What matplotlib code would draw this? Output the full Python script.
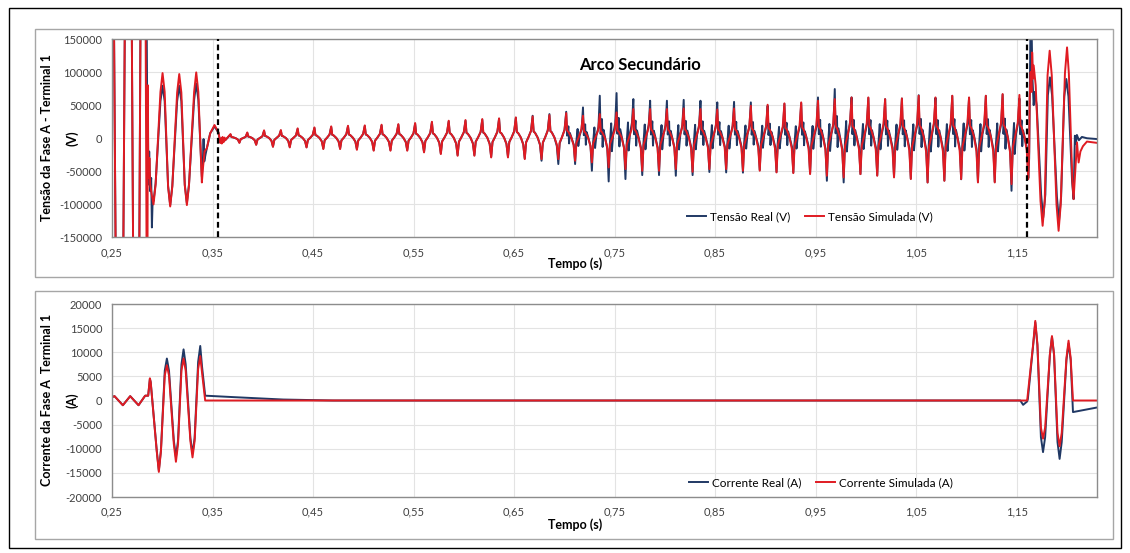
import numpy as np
import matplotlib
matplotlib.use("Agg")
import matplotlib.pyplot as plt
from matplotlib.patches import Rectangle
from matplotlib.ticker import FuncFormatter, MultipleLocator

plt.rcParams['font.family'] = ['Lato', 'DejaVu Sans']
plt.rcParams['axes.unicode_minus'] = False

BLUE = '#203864'
RED = '#e01b22'

# ---------------- tensão (V) ----------------
# trecho inicial (falta + abertura), vertices
v_ini_t_real = [0.2480, 0.2576, 0.2664, 0.2743, 0.2812, 0.2852, 0.2857, 0.2862, 0.2870, 0.2880,
                0.2890, 0.2897, 0.2905, 0.2913, 0.2934, 0.2982, 0.3003, 0.3024, 0.3058, 0.3079,
                0.3100, 0.3148, 0.3169, 0.3190, 0.3224, 0.3245, 0.3266, 0.3317, 0.3338, 0.3359,
                0.3394, 0.3405, 0.3411, 0.3418, 0.3430, 0.3444, 0.3477, 0.3520, 0.3560, 0.3576,
                0.3600, 0.3626]
v_ini_real = [1.0e6, -1.0e6, 1.0e6, -1.0e6, 1.0e6, 0, 30000, -70000, -20000, -80000,
              -60000, -134800, -90000, -95000, -68000, 56000, 79400, 56000, -72000, -101000,
              -72000, 56000, 79400, 56000, -70000, -98000, -70000, 58000, 82700, 58000,
              -58000, -30000, -1200, -35000, -25000, -15000, 7500, 18000, 8000, -5000,
              -2000, -3000]
v_ini_t_sim = [0.2480, 0.2576, 0.2664, 0.2743, 0.2812, 0.2850, 0.2857, 0.2860, 0.2866, 0.2872,
               0.2880, 0.2895, 0.2913, 0.2934, 0.2982, 0.3003, 0.3024, 0.3058, 0.3079, 0.3100,
               0.3148, 0.3169, 0.3190, 0.3224, 0.3245, 0.3266, 0.3317, 0.3338, 0.3359, 0.3394,
               0.3405, 0.3421, 0.3444, 0.3477, 0.3520, 0.3560, 0.3576, 0.3585, 0.3592, 0.3600,
               0.3610, 0.3620, 0.3626]
v_ini_sim = [1.0e6, -1.0e6, 1.0e6, -1.0e6, 1.0e6, -400000, 80000, -20000, -60000, -30000,
             -70000, -85000, -100000, -70000, 70000, 98500, 70000, -73000, -103100, -73000,
             69000, 97000, 69000, -71000, -101000, -71000, 70000, 99500, 70000, -66800,
             -45000, -20000, -15000, 7500, 20000, 8800, -7000, 0, -8000, 2000,
             -6000, 1000, -3000]

# arco secundário: pico e vale de cada ciclo (60 Hz), ciclos k=-3..44
first_peak_t = 0.3679
cycle_T = 0.0167
arc_peak_sim = [6300, 8800, 12000, 12400, 15000, 16400, 18000, 18900, 19500, 20500,
                21400, 23000, 24900, 26500, 27500, 29000, 30000, 31500, 33000, 35000,
                38000, 34000, 36500, 39000, 44100, 44100, 44100, 45000, 44100, 43500,
                45000, 49100, 50650, 52700, 54200, 56700, 59200, 61700, 61700, 59200,
                60200, 64300, 61700, 64300, 61700, 64300, 66800, 65500]
arc_trough_sim = [-7000, -10000, -13000, -13900, -14000, -16400, -16400, -17500, -18900, -18900,
                  -18900, -21400, -23900, -26500, -26500, -29000, -29000, -31500, -31500, -31500,
                  -34000, -36500, -44100, -46600, -49100, -49100, -46600, -50650, -46600, -46600,
                  -49100, -49100, -51650, -52700, -54200, -56700, -59200, -54200, -56700, -59200,
                  -61700, -66800, -64300, -61700, -66800, -66800, -69300, -61700]
arc_peak_real = [5500, 8000, 11000, 11500, 14000, 15500, 17000, 18000, 18500, 19500,
                 20500, 22000, 24000, 25500, 26500, 28000, 29500, 31000, 34000, 36500,
                 40000, 46600, 64300, 68300, 59200, 56700, 56700, 58000, 56700, 54200,
                 55000, 54200, 49000, 52000, 53000, 61700, 74400, 61700, 61000, 59000,
                 60000, 65000, 61000, 64000, 61000, 64000, 66000, 60000]
arc_trough_real = [-6500, -9500, -12500, -13000, -13500, -15500, -15500, -16500, -18000, -18000,
                   -18000, -20500, -23000, -25500, -25500, -28000, -28000, -30500, -34000, -39000,
                   -39000, -49100, -65300, -61700, -55700, -55700, -56700, -55700, -51000, -51650,
                   -52000, -48000, -51000, -52000, -53000, -64300, -66800, -54200, -56000, -58000,
                   -61000, -66800, -64000, -62000, -66000, -66000, -79400, -60000]
real_spiky_from = 20  # a partir do ciclo k=17 a tensão real tem picos extras

# forma de um ciclo (fase, fração do pico, fração do vale)
shape_sim = ([0.00, 0.06, 0.14, 0.30, 0.44, 0.53, 0.61, 0.75, 0.90],
             [1.0, 0.30, 0.25, 0.03, 0.0, 0.0, 0.0, 0.05, 0.35],
             [0.0, 0.0, 0.0, 0.0, 0.30, 1.0, 0.20, 0.0, 0.0])
shape_spiky = ([0.00, 0.05, 0.13, 0.17, 0.22, 0.30, 0.45, 0.53, 0.60, 0.68, 0.72, 0.80, 0.92],
               [1.0, 0.10, 0.45, 0.0, 0.20, 0.05, 0.0, 0.0, 0.0, 0.35, 0.0, 0.10, 0.35],
               [0.0, 0.0, 0.0, 0.20, 0.0, 0.0, 0.25, 1.0, 0.15, 0.0, 0.30, 0.0, 0.0])

# religamento
v_end_t_real = [1.1625, 1.1640, 1.1650, 1.1658, 1.1670, 1.1680, 1.1700, 1.1744, 1.1765, 1.1786,
                1.1811, 1.1832, 1.1853, 1.1901, 1.1922, 1.1943, 1.1974, 1.1995, 1.2016, 1.2052,
                1.2067, 1.2080, 1.2090, 1.2100, 1.2120, 1.2150, 1.2200, 1.2300]
v_end_real = [-30000, 200000, 160000, 89500, 50000, 70000, 50000, -85000, -119700, -85000,
              65000, 92000, 65000, -88000, -124700, -88000, 63000, 89500, 63000, -65000,
              -92000, 3800, -8000, 5000, -3000, 2000, 0, -1200]
v_end_t_sim = [1.1625, 1.1630, 1.1640, 1.1648, 1.1655, 1.1663, 1.1670, 1.1690, 1.1738, 1.1759,
               1.1780, 1.1808, 1.1829, 1.1850, 1.1897, 1.1918, 1.1939, 1.1981, 1.2002, 1.2020,
               1.2055, 1.2067, 1.2101, 1.2117, 1.2135, 1.2160, 1.2200, 1.2250, 1.2300]
v_end_sim = [-20000, 60000, 100000, 70000, 129700, 90000, 110000, 80000, -95000, -132300,
             -95000, 95000, 132300, 95000, -100000, -139900, -100000, 98000, 137300, 98000,
             -65000, -92000, -6300, -36600, -20000, -12000, -5000, -6000, -7000]

# ---------------- corrente (A) ----------------
i_t_real = [0.2500, 0.2525, 0.2608, 0.2681, 0.2764, 0.2830, 0.2860, 0.2877, 0.2885, 0.2945,
            0.2966, 0.2987, 0.3025, 0.3046, 0.3067, 0.3115, 0.3136, 0.3157, 0.3191, 0.3212,
            0.3233, 0.3280, 0.3301, 0.3322, 0.3357, 0.3378, 0.3396, 0.3427, 0.3709, 0.4204,
            0.4700, 1.1537, 1.1565, 1.1605, 1.1612, 1.1665, 1.1686, 1.1707, 1.1742, 1.1763,
            1.1784, 1.1831, 1.1852, 1.1873, 1.1907, 1.1928, 1.1949, 1.1996, 1.2017, 1.2038,
            1.2061, 1.2300]
i_real = [700, 900, -980, 900, -980, 1000, 1000, 4500, 3800, -10300,
          -14500, -10300, 6200, 8700, 6200, -8300, -11700, -8300, 7500, 10600,
          7500, -7800, -11000, -7800, 8000, 11300, 7000, 1000, 700, 200,
          0, 0, -900, -200, 300, 11500, 16200, 11500, -7600, -10700,
          -7600, 9400, 13200, 9400, -8600, -12100, -8600, 8400, 11800, 8400,
          -2400, -1450]
i_t_sim = [0.2500, 0.2525, 0.2608, 0.2681, 0.2764, 0.2830, 0.2860, 0.2877, 0.2885, 0.2945,
           0.2966, 0.2987, 0.3025, 0.3046, 0.3067, 0.3115, 0.3136, 0.3157, 0.3191, 0.3212,
           0.3233, 0.3280, 0.3301, 0.3322, 0.3357, 0.3378, 0.3396, 0.3427, 1.1605, 1.1665,
           1.1686, 1.1707, 1.1742, 1.1763, 1.1784, 1.1831, 1.1852, 1.1873, 1.1907, 1.1928,
           1.1949, 1.1996, 1.2017, 1.2038, 1.2061, 1.2300]
i_sim = [700, 900, -980, 900, -980, 1000, 1000, 4600, 3800, -10500,
         -14800, -10500, 5200, 7300, 5200, -9000, -12700, -9000, 6200, 8700,
         6200, -8400, -11800, -8400, 6500, 9200, 5700, 0, 0, 11700,
         16500, 11700, -5600, -7900, -5600, 9500, 13350, 9500, -6700, -9500,
         -6700, 8800, 12400, 8800, 0, 0]

arc_start, arc_end = 0.3555, 1.1605
post_start = 1.1622


def build_arc(peaks, troughs, spiky_from=None):
    ts, vs = [], []
    for i, (p, q) in enumerate(zip(peaks, troughs)):
        t0 = first_peak_t + i * cycle_T
        ph, cp, cn = shape_spiky if (spiky_from is not None and i >= spiky_from) else shape_sim
        for f, a, b in zip(ph, cp, cn):
            t = t0 + f * cycle_T
            if t < post_start:
                ts.append(t)
                vs.append(a * p + b * q)
    return ts, vs


arc_t_sim, arc_v_sim = build_arc(arc_peak_sim, arc_trough_sim)
arc_t_real, arc_v_real = build_arc(arc_peak_real, arc_trough_real, real_spiky_from)

vt_real = v_ini_t_real + arc_t_real + v_end_t_real
v_real = v_ini_real + arc_v_real + v_end_real
vt_sim = v_ini_t_sim + arc_t_sim + v_end_t_sim
v_sim = v_ini_sim + arc_v_sim + v_end_sim

W, H = 1130, 553
fig = plt.figure(figsize=(W / 100, H / 100), dpi=100)


def fbox(x0, y0, x1, y1):
    return [x0 / W, 1 - y1 / H, (x1 - x0) / W, (y1 - y0) / H]


# moldura externa e caixas dos graficos
fig.patches.append(Rectangle((9 / W, 1 - 548 / H), 1112 / W, 540 / H, transform=fig.transFigure,
                             fill=False, edgecolor='black', lw=1))
for y0, y1 in [(29, 277), (291, 539)]:
    fig.patches.append(Rectangle((35 / W, 1 - y1 / H), (1113 - 35) / W, (y1 - y0) / H,
                                 transform=fig.transFigure, fill=False, edgecolor='#a6a6a6', lw=1))

ax1 = fig.add_axes(fbox(112, 39, 1097, 237.5))
ax2 = fig.add_axes(fbox(112, 304, 1097, 497))

ax1.plot(vt_real, v_real, color=BLUE, lw=1.4, label='Tensão Real (V)')
ax1.plot(vt_sim, v_sim, color=RED, lw=1.4, label='Tensão Simulada (V)')
for xv in [arc_start, arc_end]:
    ax1.axvline(xv, color='black', lw=1.6, ls=(0, (2.6, 1.6)), zorder=5)

ax2.plot(i_t_real, i_real, color=BLUE, lw=1.4, label='Corrente Real (A)')
ax2.plot(i_t_sim, i_sim, color=RED, lw=1.4, label='Corrente Simulada (A)')

comma = FuncFormatter(lambda x, _: f'{x:.2f}'.replace('.', ','))
for ax, lim, step in [(ax1, 150000, 50000), (ax2, 20000, 5000)]:
    ax.set_xlim(0.25, 1.23)
    ax.set_ylim(-lim, lim)
    ax.set_xticks(np.arange(0.25, 1.2, 0.1))
    ax.xaxis.set_major_formatter(comma)
    ax.yaxis.set_major_locator(MultipleLocator(step))
    ax.yaxis.set_major_formatter(FuncFormatter(lambda v, _: f'{v:.0f}'))
    ax.grid(True, color='#e3e3e3', lw=0.8)
    ax.set_axisbelow(True)
    ax.tick_params(length=0, labelsize=8, colors='#404040', pad=7)
    for s in ax.spines.values():
        s.set_color('#8c8c8c')
        s.set_linewidth(1)
    ax.text(0.470, -0.13 if ax is ax1 else -0.145, 'Tempo (s)', transform=ax.transAxes,
            ha='center', va='center', fontsize=9, fontweight='bold')

fig.text(47 / W, 1 - 138 / H, 'Tensão da Fase A - Terminal 1', rotation=90, ha='center',
         va='center', fontsize=9, fontweight='bold')
fig.text(72 / W, 1 - 138 / H, '(V)', rotation=90, ha='center', va='center',
         fontsize=9, fontweight='bold')
fig.text(47 / W, 1 - 400 / H, 'Corrente da Fase A  Terminal 1', rotation=90, ha='center',
         va='center', fontsize=9, fontweight='bold')
fig.text(72 / W, 1 - 400 / H, '(A)', rotation=90, ha='center', va='center',
         fontsize=9, fontweight='bold')

fig.text(640 / W, 1 - 65 / H, 'Arco Secundário', ha='center', va='center',
         fontsize=12, fontweight='bold')

for ax, xf, yf in [(ax1, 0.584, 0.103), (ax2, 0.586, 0.0725)]:
    ax.legend(loc='center left', bbox_to_anchor=(xf, yf), ncol=2, frameon=False,
              fontsize=8.5, handlelength=1.6, handletextpad=0.3, columnspacing=1.3,
              borderpad=0, borderaxespad=0)

fig.savefig('out.png', dpi=100)
